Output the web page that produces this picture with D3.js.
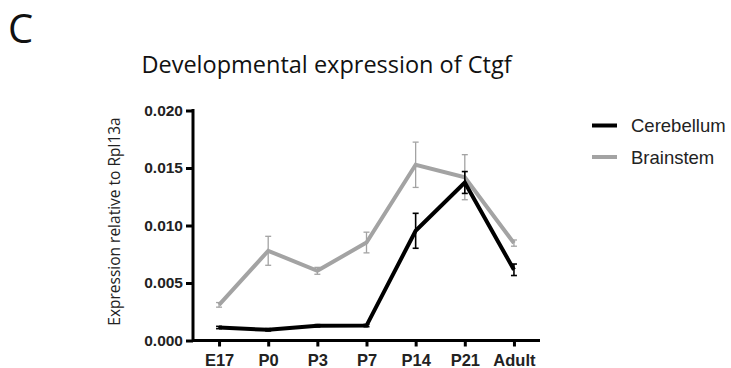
<!DOCTYPE html>
<html><head><meta charset="utf-8">
<script src="https://cdn.jsdelivr.net/npm/d3@7/dist/d3.min.js"></script>
<style>body{margin:0;background:#fff}</style>
</head><body>
<svg id="c" width="731" height="368"></svg>
<script>
const categories = ["E17","P0","P3","P7","P14","P21","Adult"];
const cerebellum = [0.00113,0.00093,0.00128,0.0013,0.00954,0.01374,0.00615];
const cerebellumErr = [0.0001,0.0001,0.0001,0.0001,0.00152,0.00095,0.0005];
const brainstem = [0.0031,0.0078,0.00606,0.00852,0.01528,0.0142,0.00847];
const brainstemErr = [0.0002,0.00126,0.0003,0.0009,0.00197,0.00196,0.00027];
const yTicks = [0,0.005,0.010,0.015,0.020];
const seriesNames = ["Cerebellum","Brainstem"];
const colors = ["#000000","#a3a3a3"];

const svg = d3.select("#c");
const x = d3.scalePoint().domain(categories).range([193,540]).padding(0.53);
const y = d3.scaleLinear().domain([0,0.020]).range([340.5,110.5]);

svg.append("text").attr("x",8).attr("y",43).attr("font-family","Open Sans").attr("font-size",40).attr("fill","#111").text("C");
svg.append("text").attr("x",326.5).attr("y",73).attr("text-anchor","middle").attr("font-family","Open Sans").attr("font-size",23.5).attr("fill","#111").text("Developmental expression of Ctgf");

svg.append("text").attr("transform","translate(120,221.5) rotate(-90)").attr("text-anchor","middle")
  .attr("font-family","Open Sans").attr("font-size",15.5).attr("fill","#222").text("Expression relative to Rpl13a");

const yAx = svg.append("g").attr("transform","translate(193,0)")
  .call(d3.axisLeft(y).tickValues(yTicks).tickFormat(d3.format(".3f")).tickSizeOuter(0).tickSize(7).tickPadding(3));
const xAx = svg.append("g").attr("transform","translate(0,340.5)")
  .call(d3.axisBottom(x).tickSizeOuter(0).tickSize(6).tickPadding(8));
[yAx,xAx].forEach(a=>{
  a.selectAll("path.domain").attr("stroke","#000").attr("stroke-width",3);
  a.selectAll(".tick line").attr("stroke","#000").attr("stroke-width",3);
  a.selectAll(".tick text").attr("font-family","Liberation Sans, Arial").attr("font-weight","bold").attr("fill","#222");
});
yAx.selectAll(".tick text").attr("font-size",15.5);
xAx.selectAll(".tick text").attr("font-size",16.5);
yAx.select("path.domain").attr("d","M0,109V340.5");
xAx.select("path.domain").attr("d","M193,0H540");

const data = [
  {vals:brainstem, errs:brainstemErr, color:colors[1], ew:1.3},
  {vals:cerebellum, errs:cerebellumErr, color:colors[0], ew:1.6}
];
const line = d3.line().x((d,i)=>x(categories[i])).y(d=>y(d));
data.forEach(s=>{
  const g = svg.append("g");
  s.vals.forEach((v,i)=>{
    const cx = x(categories[i]);
    const y1 = y(v+s.errs[i]), y2 = y(v-s.errs[i]);
    g.append("line").attr("x1",cx).attr("x2",cx).attr("y1",y1).attr("y2",y2).attr("stroke",s.color).attr("stroke-width",s.ew);
    [y1,y2].forEach(yy=>g.append("line").attr("x1",cx-3).attr("x2",cx+3).attr("y1",yy).attr("y2",yy).attr("stroke",s.color).attr("stroke-width",s.ew));
  });
  g.append("path").datum(s.vals).attr("d",line).attr("fill","none").attr("stroke",s.color).attr("stroke-width",4).attr("stroke-linejoin","miter");
});

const leg = svg.append("g");
seriesNames.forEach((n,i)=>{
  const yy = 125.5 + i*31.5;
  leg.append("line").attr("x1",592).attr("x2",617).attr("y1",yy).attr("y2",yy).attr("stroke",colors[i]).attr("stroke-width",4);
  leg.append("text").attr("x",631).attr("y",yy+6.5).attr("font-family","Liberation Sans, Arial").attr("font-size",18.5).attr("fill","#222").text(n);
});
</script>
</body></html>
